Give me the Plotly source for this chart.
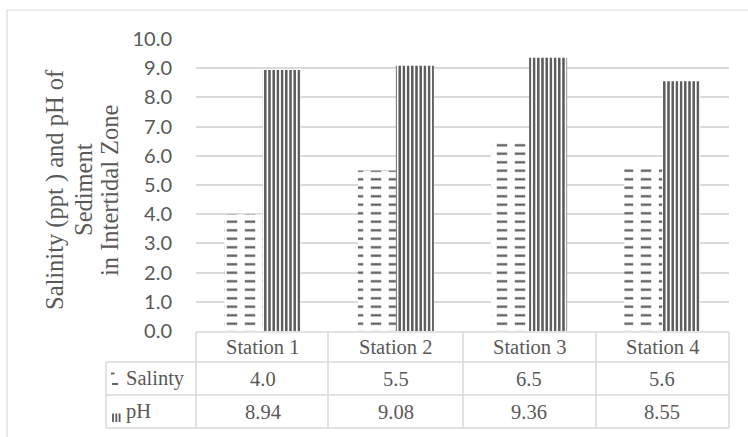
import plotly.graph_objects as go

# Data
stations = ["Station 1", "Station 2", "Station 3", "Station 4"]
salinity = [4.0, 5.5, 6.5, 5.6]
ph = [8.94, 9.08, 9.36, 8.55]
series_names = ["Salinty", "pH"]
y_ticks = [0, 1, 2, 3, 4, 5, 6, 7, 8, 9, 10]

W, H = 748, 437
L, R, T, B = 196, 729, 39, 331  # plot area in pixels

def px_x(p):
    return (p - L) / (R - L)

def px_y(p):
    return (B - p) / (B - T)

GRID = "#d9d9d9"
INK = "#595959"
SERIF = "Liberation Serif"
SANS = "Lato"
BW = 0.285

fig = go.Figure()

# Salinity: horizontal strokes, broken into dashes by a white vertical overlay
fig.add_trace(go.Bar(
    x=stations, y=salinity, name=series_names[0], offset=-BW, width=BW,
    marker=dict(color="white", line=dict(width=0),
                pattern=dict(shape="-", fgcolor=INK, bgcolor="white",
                             size=8.5, solidity=0.26, fillmode="replace")),
    showlegend=False,
))
fig.add_trace(go.Bar(
    x=stations, y=salinity, name=series_names[0], offset=-BW, width=BW,
    marker=dict(color="rgba(0,0,0,0)", line=dict(width=0),
                pattern=dict(shape="|", fgcolor="white", bgcolor="rgba(255,255,255,0)",
                             size=18, solidity=0.42, fillmode="replace")),
    showlegend=False, hoverinfo="skip",
))
# pH: vertical stripes
fig.add_trace(go.Bar(
    x=stations, y=ph, name=series_names[1], offset=0, width=BW,
    marker=dict(color="white", line=dict(width=0),
                pattern=dict(shape="|", fgcolor=INK, bgcolor="white",
                             size=4.2, solidity=0.58, fillmode="replace")),
    showlegend=False,
))

shapes = []
line_style = dict(color=GRID, width=1.5)

# Outer chart frame
shapes.append(dict(type="rect", xref="paper", yref="paper",
                   x0=px_x(7), x1=px_x(760), y0=px_y(10), y1=px_y(450),
                   line=dict(color=GRID, width=1.2), fillcolor="rgba(0,0,0,0)", layer="below"))

# Data table grid
rows = [332, 362, 395, 428]
cols = [196, 328, 463, 596, 729]
shapes.append(dict(type="line", xref="paper", yref="paper",
                   x0=px_x(196), x1=px_x(729), y0=px_y(rows[0]), y1=px_y(rows[0]), line=line_style))
for r in rows[1:]:
    shapes.append(dict(type="line", xref="paper", yref="paper",
                       x0=px_x(106), x1=px_x(729), y0=px_y(r), y1=px_y(r), line=line_style))
for c in cols:
    shapes.append(dict(type="line", xref="paper", yref="paper",
                       x0=px_x(c), x1=px_x(c), y0=px_y(rows[0]), y1=px_y(rows[-1]), line=line_style))
shapes.append(dict(type="line", xref="paper", yref="paper",
                   x0=px_x(106), x1=px_x(106), y0=px_y(rows[1]), y1=px_y(rows[-1]), line=line_style))

# Legend keys inside the row headers
key = dict(color=INK, width=1.8)
shapes.append(dict(type="line", xref="paper", yref="paper",
                   x0=px_x(111), x1=px_x(114.5), y0=px_y(373.5), y1=px_y(373.5), line=key))
shapes.append(dict(type="line", xref="paper", yref="paper",
                   x0=px_x(112), x1=px_x(118), y0=px_y(384), y1=px_y(384), line=key))
for kx in (113, 116.3, 119.6):
    shapes.append(dict(type="line", xref="paper", yref="paper",
                       x0=px_x(kx), x1=px_x(kx), y0=px_y(413.5), y1=px_y(422),
                       line=dict(color=INK, width=1.8)))

annotations = []
tfont = dict(family=SERIF, size=20.5, color=INK)
row_mid = [(rows[i] + rows[i + 1]) / 2 for i in range(3)]
for i, s in enumerate(stations):
    annotations.append(dict(x=s, xref="x", y=px_y(row_mid[0]), yref="paper",
                            text=s, showarrow=False, font=tfont, xanchor="center", yanchor="middle"))
    annotations.append(dict(x=s, xref="x", y=px_y(row_mid[1]), yref="paper",
                            text=f"{salinity[i]:.1f}", showarrow=False, font=tfont,
                            xanchor="center", yanchor="middle"))
    annotations.append(dict(x=s, xref="x", y=px_y(row_mid[2]), yref="paper",
                            text=f"{ph[i]:.2f}", showarrow=False, font=tfont,
                            xanchor="center", yanchor="middle"))
for name, rm in zip(series_names, row_mid[1:]):
    annotations.append(dict(x=px_x(124), xref="paper", y=px_y(rm), yref="paper",
                            text=name, showarrow=False, font=tfont, xanchor="left", yanchor="middle"))

# Rotated axis title, one line per annotation
title_lines = ["Salinity (ppt ) and pH of", "Sediment", "in Intertidal Zone"]
for line, cx in zip(title_lines, (55, 83, 109)):
    annotations.append(dict(x=px_x(cx), xref="paper", y=px_y(190), yref="paper",
                            text=line, textangle=-90, showarrow=False,
                            font=dict(family=SERIF, size=24.5, color=INK),
                            xanchor="center", yanchor="middle"))

fig.update_layout(
    width=W, height=H,
    margin=dict(l=L, r=W - R, t=T, b=H - B, pad=0),
    paper_bgcolor="white", plot_bgcolor="white",
    barmode="overlay",
    showlegend=False,
    shapes=shapes,
    annotations=annotations,
    xaxis=dict(showticklabels=False, showgrid=False, zeroline=False, showline=False,
               ticks="", range=[-0.5, 3.5]),
    yaxis=dict(range=[0, 10], tickvals=y_ticks, tickformat=".1f",
               showgrid=True, gridcolor=GRID, gridwidth=1.5, zeroline=False, showline=False,
               ticks="outside", ticklen=19, tickcolor="rgba(0,0,0,0)",
               tickfont=dict(family=SANS, size=20, color=INK)),
)

fig.write_html("out.html")
